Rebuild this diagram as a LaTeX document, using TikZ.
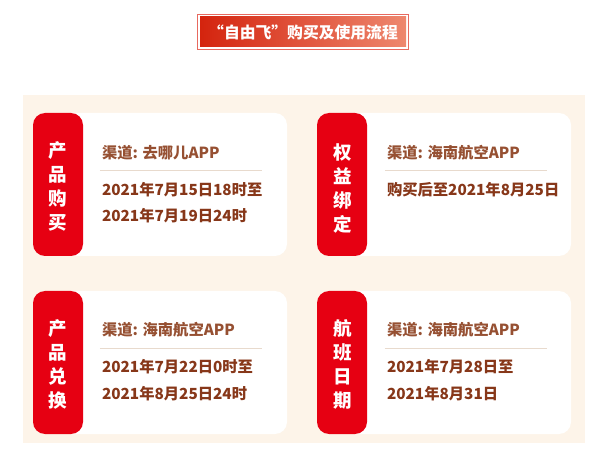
\documentclass[tikz,border=0pt]{standalone}
\usepackage{fontspec}
\setmainfont{Noto Sans CJK SC}
\usetikzlibrary{fit}
\definecolor{tabred}   {RGB}{230,  0, 18}
\definecolor{cream}    {RGB}{253, 244, 233}
\definecolor{infobrown}{RGB}{135,  55, 25}
\definecolor{chanbrown}{RGB}{150,  80, 50}
\definecolor{rulegray} {RGB}{232, 218, 205}
\definecolor{titleleft}{RGB}{212,  36, 14}
\definecolor{titleright}{RGB}{238, 135, 110}
\definecolor{titleline}{RGB}{232, 105, 95}
% full-width quotes for the title
\newcommand{\lquo}{\makebox[1em][r]{“}}
\newcommand{\rquo}{\makebox[1em][l]{”}}

\begin{document}
\begin{tikzpicture}[x=1pt, y=-1pt,
  card/.style={rectangle, fill=white, rounded corners=12pt, inner sep=0pt,
    minimum width=254pt, minimum height=143pt,
    path picture={\fill[tabred] (path picture bounding box.north west)
      rectangle ([xshift=50pt]path picture bounding box.south west);}},
  tabtext/.style={text=white, align=center, inner sep=0pt,
    font=\fontsize{18.5}{24}\selectfont\bfseries},
  chan/.style={anchor=west, text=chanbrown, inner sep=0pt,
    font=\fontsize{15.3}{18}\selectfont\bfseries},
  info/.style={anchor=west, text=infobrown, inner sep=0pt,
    font=\fontsize{15.3}{18}\selectfont\bfseries},
  sep/.style={draw=rulegray, line width=0.9pt}]
  \useasboundingbox (0,0) rectangle (595,457);
  % title
  \node[left color=titleleft, right color=titleright, text=white,
    minimum width=206pt, minimum height=30pt, inner sep=0pt,
    font=\fontsize{15.8}{16}\selectfont\bfseries] (title) at (303,32)
    {\lquo 自由飞\rquo 购买及使用流程};
  \node[draw=titleline, line width=0.7pt, fit=(title), inner sep=2.5pt] (titleframe) {};
  % background panel
  \fill[cream] (23,95) rectangle (585,443);
  % cards
  \node[card] (buy)  at (160,184.5) {};
  \node[card] (bind) at (444,184.5) {};
  \node[card] (swap) at (160,362.5) {};
  \node[card] (fly)  at (444,362.5) {};
  % tab labels
  \node[tabtext] (buylbl)  at ([xshift=25pt,yshift=-2pt]buy.west)  {产\\品\\购\\买};
  \node[tabtext] (bindlbl) at ([xshift=26pt,yshift=-4pt]bind.west) {权\\益\\绑\\定};
  \node[tabtext] (swaplbl) at ([xshift=25pt,yshift=-2pt]swap.west) {产\\品\\兑\\换};
  \node[tabtext] (flylbl)  at ([xshift=26pt,yshift=-2pt]fly.west)  {航\\班\\日\\期};
  % purchase
  \node[chan] (buychan) at ([xshift=69pt,yshift=-40pt]buy.north west) {渠道: 去哪儿APP};
  \draw[sep] ([xshift=67pt,yshift=-58pt]buy.north west) coordinate (buyrule)
    -- ([xshift=162pt]buyrule);
  \node[info] (buyfrom) at ([xshift=69pt,yshift=-77pt]buy.north west)  {2021年7月15日18时至};
  \node[info] (buyto)   at ([xshift=69pt,yshift=-103pt]buy.north west) {2021年7月19日24时};
  % binding
  \node[chan] (bindchan) at ([xshift=70pt,yshift=-40pt]bind.north west) {渠道: 海南航空APP};
  \draw[sep] ([xshift=68pt,yshift=-58pt]bind.north west) coordinate (bindrule)
    -- ([xshift=162pt]bindrule);
  \node[info] (bindto) at ([xshift=70pt,yshift=-77pt]bind.north west) {购买后至2021年8月25日};
  % exchange
  \node[chan] (swapchan) at ([xshift=69pt,yshift=-39pt]swap.north west) {渠道: 海南航空APP};
  \draw[sep] ([xshift=67pt,yshift=-58pt]swap.north west) coordinate (swaprule)
    -- ([xshift=162pt]swaprule);
  \node[info] (swapfrom) at ([xshift=69pt,yshift=-76pt]swap.north west)  {2021年7月22日0时至};
  \node[info] (swapto)   at ([xshift=69pt,yshift=-103pt]swap.north west) {2021年8月25日24时};
  % flight dates
  \node[chan] (flychan) at ([xshift=70pt,yshift=-39pt]fly.north west) {渠道: 海南航空APP};
  \draw[sep] ([xshift=68pt,yshift=-58pt]fly.north west) coordinate (flyrule)
    -- ([xshift=162pt]flyrule);
  \node[info] (flyfrom) at ([xshift=70pt,yshift=-76pt]fly.north west)  {2021年7月28日至};
  \node[info] (flyto)   at ([xshift=70pt,yshift=-103pt]fly.north west) {2021年8月31日};
\end{tikzpicture}
\end{document}
